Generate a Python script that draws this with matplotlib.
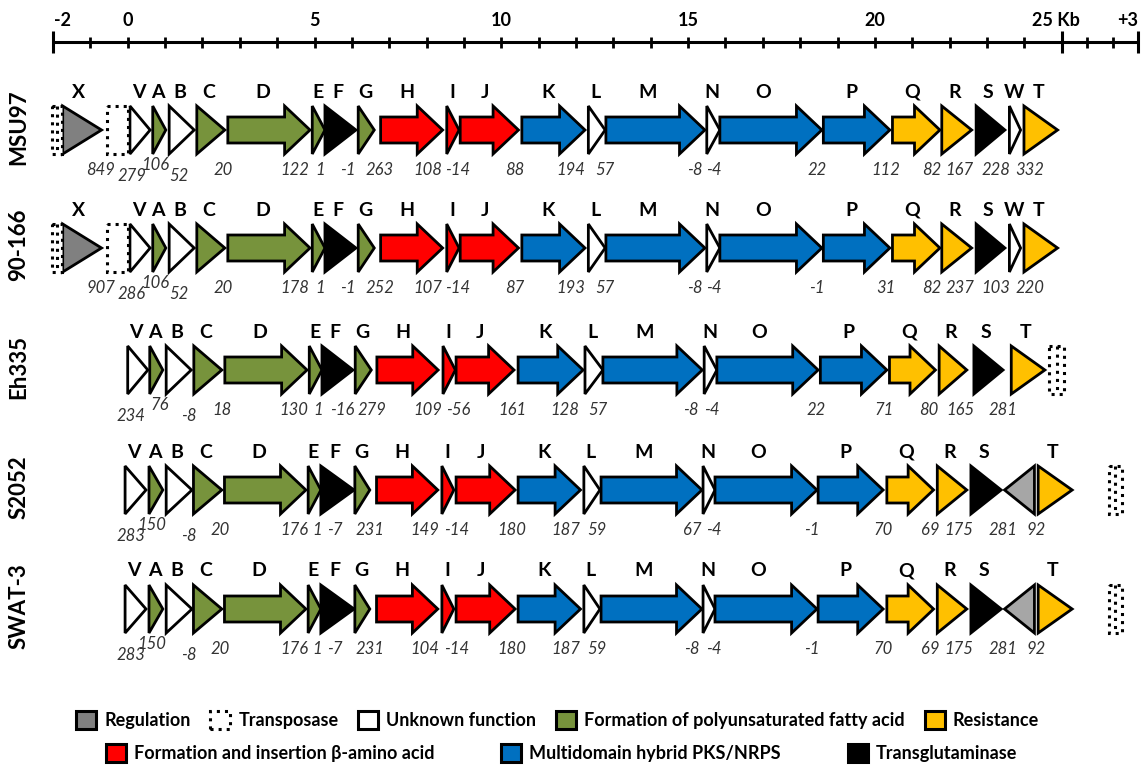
import matplotlib
matplotlib.use('Agg')
import matplotlib.pyplot as plt
from matplotlib.patches import Polygon, Rectangle, Patch

plt.rcParams['font.family'] = ['Lato', 'DejaVu Sans']

# strain rows, top to bottom
strains = ['MSU97', '90-166', 'Eh335', 'S2052', 'SWAT-3']

# MSU97 / 90-166 share the same gene layout (kb)
genes_a = ['X', 'V', 'A', 'B', 'C', 'D', 'E', 'F', 'G', 'H', 'I', 'J', 'K', 'L', 'M', 'N', 'O', 'P',
           'Q', 'R', 'S', 'W', 'T']
start_a = [-1.74, 0.06, 0.67, 1.11, 1.85, 2.68, 4.94, 5.28, 6.17, 6.77, 8.54, 8.90, 10.55, 12.33,
           12.80, 15.50, 15.85, 18.62, 20.47, 21.79, 22.71, 23.60, 23.99]
end_a = [-0.70, 0.60, 1.02, 1.78, 2.60, 4.88, 5.28, 6.11, 6.60, 8.43, 8.87, 10.46, 12.24, 12.78,
         15.45, 15.85, 18.58, 20.40, 21.74, 22.59, 23.48, 23.90, 24.89]
func_a = ['reg', 'unk', 'pufa', 'unk', 'pufa', 'pufa', 'pufa', 'tg', 'pufa', 'beta', 'beta', 'beta',
          'pks', 'unk', 'pks', 'unk', 'pks', 'pks', 'res', 'res', 'tg', 'unk', 'res']
tp_a = [(-2.03, -1.77), (-0.56, 0.0)]

# Eh335
genes_b = ['V', 'A', 'B', 'C', 'D', 'E', 'F', 'G', 'H', 'I', 'J', 'K', 'L', 'M', 'N', 'O', 'P',
           'Q', 'R', 'S', 'T']
start_b = [0.00, 0.59, 1.03, 1.77, 2.60, 4.86, 5.20, 6.09, 6.67, 8.44, 8.79, 10.45, 12.24, 12.72,
           15.43, 15.77, 18.54, 20.39, 21.72, 22.65, 23.65]
end_b = [0.54, 0.94, 1.70, 2.52, 4.80, 5.20, 6.03, 6.52, 8.31, 8.77, 10.34, 12.19, 12.72, 15.38,
         15.77, 18.48, 20.32, 21.62, 22.46, 23.43, 24.55]
func_b = ['unk', 'pufa', 'unk', 'pufa', 'pufa', 'pufa', 'tg', 'pufa', 'beta', 'beta', 'beta',
          'pks', 'unk', 'pks', 'unk', 'pks', 'pks', 'res', 'res', 'tg', 'res']
tp_b = [(24.67, 25.07)]

# S2052 / SWAT-3 (reverse gene: start > end)
genes_c = ['V', 'A', 'B', 'C', 'D', 'E', 'F', 'G', 'H', 'I', 'J', 'K', 'L', 'M', 'N', 'O', 'P',
           'Q', 'R', 'S', '', 'T']
start_c = [-0.07, 0.57, 1.03, 1.76, 2.59, 4.83, 5.17, 6.08, 6.66, 8.41, 8.79, 10.45, 12.21, 12.67,
           15.40, 15.72, 18.48, 20.32, 21.67, 22.57, 24.27, 24.37]
end_c = [0.49, 0.94, 1.72, 2.52, 4.77, 5.17, 6.06, 6.48, 8.30, 8.73, 10.37, 12.12, 12.64, 15.37,
         15.72, 18.45, 20.22, 21.57, 22.46, 23.38, 23.47, 25.28]
func_c = ['unk', 'pufa', 'unk', 'pufa', 'pufa', 'pufa', 'tg', 'pufa', 'beta', 'beta', 'beta',
          'pks', 'unk', 'pks', 'unk', 'pks', 'pks', 'res', 'res', 'tg', 'reg2', 'res']
tp_c = [(26.27, 26.61)]

# intergenic distances (bp)
gaps_msu97 = [849, 279, 106, 52, 20, 122, 1, -1, 263, 108, -14, 88, 194, 57, -8, -4, 22, 112, 82,
              167, 228, 332]
gaps_90166 = [907, 286, 106, 52, 20, 178, 1, -1, 252, 107, -14, 87, 193, 57, -8, -4, -1, 31, 82,
              237, 103, 220]
gaps_eh335 = [234, 76, -8, 18, 130, 1, -16, 279, 109, -56, 161, 128, 57, -8, -4, 22, 71, 80, 165, 281]
gaps_s2052 = [283, 150, -8, 20, 176, 1, -7, 231, 149, -14, 180, 187, 59, 67, -4, -1, 70, 69, 175,
              281, 92]
gaps_swat3 = [283, 150, -8, 20, 176, 1, -7, 231, 104, -14, 180, 187, 59, -8, -4, -1, 70, 69, 175,
              281, 92]

# where the distance numbers sit (kb)
gap_x_a = [-0.72, 0.11, 0.73, 1.37, 2.55, 4.46, 5.15, 5.90, 6.75, 8.02, 8.84, 10.37, 11.87, 12.77,
           15.18, 15.69, 18.45, 20.30, 21.52, 22.27, 23.23, 24.14]
gap_x_b = [0.09, 0.86, 1.64, 2.52, 4.45, 5.10, 5.74, 6.53, 8.04, 8.86, 10.29, 11.70, 12.59, 15.08,
           15.64, 18.42, 20.24, 21.45, 22.30, 23.43]
gap_x_c = [0.09, 0.65, 1.64, 2.47, 4.45, 5.07, 5.55, 6.49, 7.96, 8.81, 10.29, 11.73, 12.56, 15.10,
           15.69, 18.32, 20.22, 21.48, 22.24, 23.43, 24.31]

colors = {'reg': '#808080', 'reg2': '#a6a6a6', 'unk': 'white', 'pufa': '#77933c', 'res': '#ffc000',
          'beta': '#ff0000', 'pks': '#0070c0', 'tg': '#000000'}

rows = [
    (genes_a, start_a, end_a, func_a, tp_a, gaps_msu97, gap_x_a, 1),
    (genes_a, start_a, end_a, func_a, tp_a, gaps_90166, gap_x_a, 1),
    (genes_b, start_b, end_b, func_b, tp_b, gaps_eh335, gap_x_b, 0),
    (genes_c, start_c, end_c, func_c, tp_c, gaps_s2052, gap_x_c, 0),
    (genes_c, start_c, end_c, func_c, tp_c, gaps_swat3, gap_x_c, 0),
]
row_y = [130, 248, 370, 490, 609]

PX_KB = 37.36      # pixels per kb
X0 = 127.7         # pixel of 0 kb
H = 24             # half height of a gene
SH = 13            # half height of arrow shaft
HL = 0.68          # arrow head length, kb
LW = 2.0

fig = plt.figure(figsize=(11.46, 7.67), dpi=100)
ax = fig.add_axes([0, 0, 1, 1])
ax.set_xlim(-X0 / PX_KB, (1146 - X0) / PX_KB)
ax.set_ylim(767, 0)
ax.axis('off')


def gene_shape(s, e, c):
    d = 1 if e > s else -1
    if abs(e - s) > 1.1:
        b = e - d * HL
        return [(s, c - SH), (b, c - SH), (b, c - H), (e, c), (b, c + H), (b, c + SH), (s, c + SH)]
    return [(s, c - H), (e, c), (s, c + H)]


# scale bar
ax.plot([-2, 27.04], [42, 42], color='black', lw=2.2, solid_capstyle='butt')
small_ticks = list(range(-1, 25)) + [25.68, 26.37]
big_ticks = [-2, 25, 27.04]
ax.vlines(small_ticks, 36.5, 47.5, color='black', lw=2.0)
ax.vlines(big_ticks, 31, 53, color='black', lw=2.2)
ax.text(-1.98, 20, '-2', ha='left', va='center', fontsize=13, fontweight='bold')
for v in [0, 5, 10, 15, 20]:
    ax.text(v, 20, str(v), ha='center', va='center', fontsize=13, fontweight='bold')
ax.text(24.85, 20, '25 Kb', ha='center', va='center', fontsize=13, fontweight='bold')
ax.text(27.04, 20, '+3', ha='right', va='center', fontsize=13, fontweight='bold')

for name, c, (genes, st, en, fn, tps, gaps, gx, sub0) in zip(strains, row_y, rows):
    ax.text(-2.92, c - 3, name, rotation=90, ha='center', va='center', fontsize=16, fontweight='bold')
    for g, s, e, f in zip(genes, st, en, fn):
        ax.add_patch(Polygon(gene_shape(s, e, c), closed=True, facecolor=colors[f], edgecolor='black',
                             lw=LW, joinstyle='miter'))
        if g:
            xm = (s + e) / 2 - 0.08 * abs(e - s)
            ax.text(xm, c - 38, g, ha='center', va='center', fontsize=14, fontweight='bold')
    for a, b in tps:
        ax.add_patch(Rectangle((a, c - H), b - a, 2 * H, facecolor='white', edgecolor='black',
                               lw=2.2, linestyle=':'))
        if b - a < 0.4:
            ax.plot([(a + b) / 2] * 2, [c - H, c + H], color='black', lw=2.2, linestyle=':')
    for i, (v, x) in enumerate(zip(gaps, gx)):
        dy = 40
        if i == sub0 or i == sub0 + 2:
            dy = 46
        elif i == sub0 + 1:
            dy = 35
        ax.text(x, c + dy, str(v), ha='center', va='center', fontsize=12, style='italic', color='#333333')

# legend
leg_kw = dict(frameon=False, handlelength=1.1, handleheight=1.2, handletextpad=0.45,
              prop={'weight': 'bold', 'size': 13}, borderaxespad=0)
h1 = [Patch(facecolor=colors['reg'], edgecolor='black', lw=2.2),
      Patch(facecolor='white', edgecolor='black', lw=2.2, linestyle=':'),
      Patch(facecolor='white', edgecolor='black', lw=2.2),
      Patch(facecolor=colors['pufa'], edgecolor='black', lw=2.2),
      Patch(facecolor=colors['res'], edgecolor='black', lw=2.2)]
l1 = ax.legend(h1, ['Regulation', 'Transposase', 'Unknown function',
                    'Formation of polyunsaturated fatty acid', 'Resistance'],
               ncol=5, columnspacing=1.1, loc='center', bbox_to_anchor=(0.4865, 1 - 720 / 767), **leg_kw)
ax.add_artist(l1)
h2 = [Patch(facecolor=colors['beta'], edgecolor='black', lw=2.2),
      Patch(facecolor=colors['pks'], edgecolor='black', lw=2.2),
      Patch(facecolor=colors['tg'], edgecolor='black', lw=2.2)]
ax.legend(h2, ['Formation and insertion β-amino acid', 'Multidomain hybrid PKS/NRPS', 'Transglutaminase'],
          ncol=3, columnspacing=3.7, loc='center', bbox_to_anchor=(0.49, 1 - 753 / 767), **leg_kw)

fig.savefig('out.png', dpi=100)
